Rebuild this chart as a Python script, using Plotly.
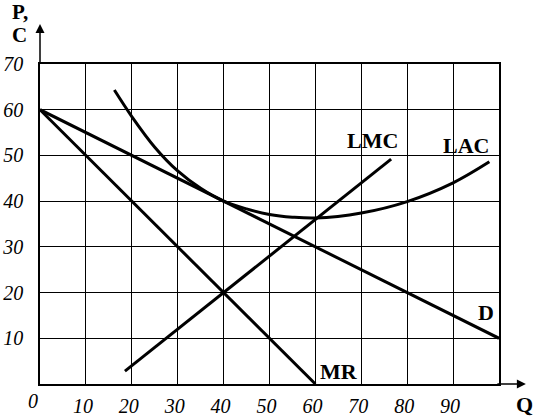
import plotly.graph_objects as go

# Data
d_q = [0, 100]
d_p = [60, 10]
mr_q = [0, 60]
mr_p = [60, 0]
lmc_q = [18.5, 76.5]
lmc_c = [2.8, 49.2]
lac_q = [16.2, 20, 25, 30, 35, 40, 45, 50, 55, 60, 70, 80, 90, 97.9]
lac_c = [64.3, 58.5, 51.8, 46.6, 42.8, 40.0, 38.3, 37.1, 36.5, 36.3, 37.4, 39.9, 44.0, 48.6]
x_ticks = [10, 20, 30, 40, 50, 60, 70, 80, 90]
y_ticks = [10, 20, 30, 40, 50, 60, 70]

SERIF = "Liberation Serif"
line_style = dict(color="black", width=3)

fig = go.Figure()
fig.add_trace(go.Scatter(x=d_q, y=d_p, mode="lines", line=line_style))
fig.add_trace(go.Scatter(x=mr_q, y=mr_p, mode="lines", line=line_style))
fig.add_trace(go.Scatter(x=lmc_q, y=lmc_c, mode="lines", line=line_style))
fig.add_trace(go.Scatter(x=lac_q, y=lac_c, mode="lines",
                         line=dict(color="black", width=3, shape="spline", smoothing=1.0)))

tickfont = dict(family=SERIF, size=20, color="black", style="italic")
fig.update_xaxes(range=[0, 100], tickvals=x_ticks, ticktext=[f"<i>{v}</i>" for v in x_ticks],
                 showgrid=True, gridcolor="black", gridwidth=1.2,
                 showline=True, linecolor="black", linewidth=1.5, mirror=True,
                 zeroline=False, ticks="", tickfont=tickfont, automargin=False,
                 ticklabelstandoff=3, ticklabelshift=-3)
fig.update_yaxes(range=[0, 70], tickvals=y_ticks, ticktext=[f"<i>{v}</i>" for v in y_ticks],
                 showgrid=True, gridcolor="black", gridwidth=1.2,
                 showline=True, linecolor="black", linewidth=1.5, mirror=True,
                 zeroline=False, ticks="", tickfont=tickfont, automargin=False,
                 ticklabelstandoff=11)

bold = dict(family=SERIF, size=22, color="black", weight="bold")
bold_small = dict(family=SERIF, size=21, color="black", weight="bold")
labels = [("LMC", 72.5, 53.2), ("LAC", 92.8, 52.1), ("D", 97.2, 15.6), ("MR", 65.1, 2.7)]
for txt, x, y in labels:
    fig.add_annotation(x=x, y=y, text=f"<b>{txt}</b>", showarrow=False, font=bold,
                       xanchor="center", yanchor="middle")

# axis titles and origin
def paper_text(x, y, text, font):
    fig.add_annotation(xref="paper", yref="paper", x=x, y=y, text=text,
                       showarrow=False, font=font, xanchor="center", yanchor="middle")

paper_text(-0.0436, 1.162, "<b>P,</b>", bold_small)
paper_text(-0.0436, 1.0906, "<b>C</b>", bold_small)
paper_text(1.0566, -0.064, "<b>Q</b>", bold)
paper_text(-0.0153, -0.0546, "<i>0</i>", tickfont)

# axis arrows
fig.add_annotation(xref="paper", yref="paper", x=0, y=1.1248, ax=0, ay=40,
                   showarrow=True, arrowhead=2, arrowsize=1.2, arrowwidth=1.5,
                   arrowcolor="black", text="")
fig.add_annotation(xref="paper", yref="paper", x=1.0585, y=0, ax=-30, ay=0,
                   showarrow=True, arrowhead=2, arrowsize=1.2, arrowwidth=1.5,
                   arrowcolor="black", text="")

fig.update_layout(template="none", width=541, height=416, showlegend=False,
                  margin=dict(l=40, r=42, t=64, b=31.5, autoexpand=False),
                  plot_bgcolor="white", paper_bgcolor="white")

# remove the page's default 8px body margin so the figure sits at the window corner
fig.write_html("out.html", config={"displayModeBar": False},
               post_script="document.body.style.margin='0';")
